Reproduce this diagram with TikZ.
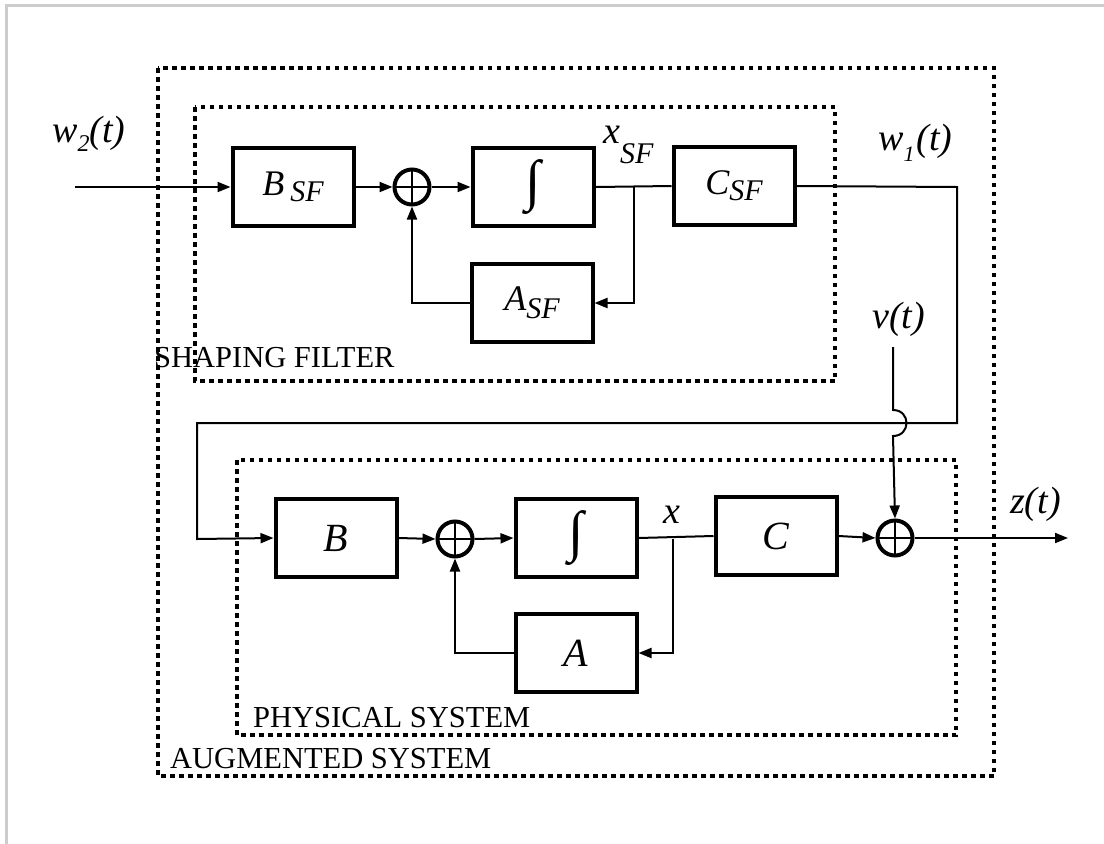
\documentclass[tikz,border=0pt]{standalone}
\usepackage{fontspec}
\usepackage{graphicx}
\setmainfont{Liberation Serif}
\usetikzlibrary{arrows.meta}
\begin{document}
\begin{tikzpicture}[x=1pt,y=-1pt,
  blk/.style={draw, line width=4pt, minimum width=121pt, minimum height=78pt, inner sep=0pt, fill=white},
  sumnode/.style={draw, circle, line width=4pt, minimum size=35pt, inner sep=0pt, fill=white,
    path picture={\draw[line width=1.6pt] (path picture bounding box.north) -- (path picture bounding box.south) (path picture bounding box.west) -- (path picture bounding box.east);}},
  sig/.style={line width=2pt, -{Triangle[length=13pt,width=10pt]}},
  wire/.style={line width=2pt},
  group/.style={line width=4pt, dash pattern=on 4.5pt off 4.5pt},
  lab/.style={inner sep=0pt, font=\fontsize{30.5}{30.5}\selectfont},
  var/.style={inner sep=0pt, font=\fontsize{38}{38}\selectfont\itshape},
  blkfont/.style={font=\fontsize{36}{36}\selectfont\itshape},
  bigfont/.style={font=\fontsize{40}{40}\selectfont\itshape},
  intfont/.style={font=\fontsize{56}{56}\selectfont}
]
\useasboundingbox (0,0) rectangle (1104,844);
\draw[gray!40, line width=3pt] (6,844) -- (6,5) -- (1104,5);

% group boxes
\draw[group] (158,68) rectangle (994,776);
\draw[group] (195,107) rectangle (835,381);
\draw[group] (237,460) rectangle (956,735);

\node[lab, anchor=base west] (tSF) at (154,367) {SHAPING FILTER};
\node[lab, anchor=base west] (tPS) at (253,727) {PHYSICAL SYSTEM};
\node[lab, anchor=base west] (tAS) at (170,768) {AUGMENTED SYSTEM};

% shaping filter
\node[blk, blkfont] (BSF) at (293,187) {B\,\raisebox{-6pt}{\fontsize{30}{30}\selectfont SF}};
\node[sumnode] (sSF) at (412,187) {};
\node[blk, intfont] (ISF) at (533,187) {∫};
\node[blk, blkfont] (CSF) at (734,186) {C\raisebox{-6pt}{\fontsize{30}{30}\selectfont SF}};
\node[blk, blkfont] (ASF) at (532,303) {A\raisebox{-8pt}{\fontsize{30}{30}\selectfont SF}};
\coordinate (jSF) at (634,187);

% physical system
\node[blk, bigfont] (B) at (336,538) {B};
\node[sumnode] (s1) at (455,539) {};
\node[blk, intfont] (I) at (576,538) {∫};
\node[blk, bigfont] (A) at (576,653) {A};
\node[blk, bigfont] (C) at (776,536) {C};
\node[sumnode] (s2) at (895,538) {};
\coordinate (j) at (673,539);

% signal labels
\node[var, anchor=base west] (w2) at (52,142) {w\raisebox{-9pt}{\fontsize{24}{24}\selectfont 2}(t)};
\node[var, anchor=base west] (xSF) at (603,143) {x\raisebox{-20pt}{\fontsize{30}{30}\selectfont SF}};
\node[var, anchor=base west] (w1) at (878,150) {w\raisebox{-11pt}{\fontsize{22}{22}\selectfont 1}\hspace{2pt}(t)};
\node[var, anchor=base west] (v) at (872,328) {v(t)};
\node[var, anchor=base west] (z) at (1010,513) {z(t)};
\node[var, anchor=base west] (xl) at (663,523) {x};

\coordinate (in) at (75,187);
\coordinate (out) at (1068,538);
\coordinate (vtop) at (893,347);
\coordinate (c1) at (957,187);
\coordinate (c2) at (957,423);
\coordinate (c3) at (197,423);
\coordinate (c4) at (197,539);
\coordinate (ja) at (893,410);
\coordinate (jb) at (893,436);

% shaping filter connectors
\draw[sig] (in) -- (BSF.west);
\draw[sig] (BSF.east) -- (sSF.west);
\draw[sig] (sSF.east) -- (ISF.west);
\draw[wire] (ISF.east) -- (CSF.west);
\draw[sig] (jSF) |- (ASF.east);
\draw[sig] (ASF.west) -| (sSF.south);
\draw[sig] (CSF.east) -- (c1) -- (c2) -- (c3) -- (c4) -- (B.west);

% physical connectors
\draw[sig] (B.east) -- (s1.west);
\draw[sig] (s1.east) -- (I.west);
\draw[wire] (I.east) -- (C.west);
\draw[sig] (j) |- (A.east);
\draw[sig] (A.west) -| (s1.south);
\draw[sig] (C.east) -- (s2.west);
\draw[sig] (s2.east) -- (out);
\draw[sig] (vtop) -- (ja) .. controls (911,410) and (911,436) .. (jb) -- (s2.north);
\end{tikzpicture}
\end{document}
